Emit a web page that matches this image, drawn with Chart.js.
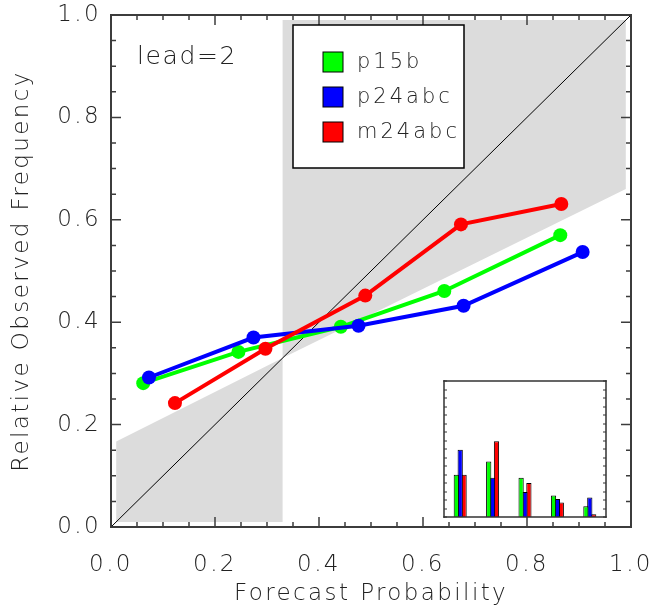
<!DOCTYPE html>
<html>
<head>
<meta charset="utf-8">
<script src="https://cdn.jsdelivr.net/npm/chart.js@4.4.1/dist/chart.umd.min.js"></script>
<style>
  body { margin: 0; background: #fff; }
  #wrap { position: relative; width: 654px; height: 612px; }
  #frame { position: absolute; left: 0; top: 0; }
  #inset { position: absolute; left: 440px; top: 377px; }
</style>
</head>
<body>
<div id="wrap">
  <canvas id="chart" width="654" height="612"></canvas>
  <canvas id="frame" width="654" height="612"></canvas>
  <canvas id="inset" width="170" height="144"></canvas>
</div>
<script>
// reliability points (forecast probability, observed frequency)
const p15bX = [0.062, 0.245, 0.442, 0.641, 0.864];
const p15bY = [0.281, 0.342, 0.391, 0.461, 0.570];
const p24abcX = [0.073, 0.274, 0.476, 0.678, 0.907];
const p24abcY = [0.292, 0.370, 0.393, 0.432, 0.537];
const m24abcX = [0.123, 0.297, 0.489, 0.673, 0.866];
const m24abcY = [0.242, 0.348, 0.452, 0.591, 0.631];

// skill zone outline (climatology ~0.33)
const shadeX = [0.01, 0.01, 0.33, 0.33, 0.99, 0.99, 0.33, 0.33];
const shadeY = [0.01, 0.167, 0.33, 0.99, 0.99, 0.66, 0.33, 0.01];

// sharpness histogram (forecast frequency per bin)
const bins = ['0.1', '0.3', '0.5', '0.7', '0.9'];
const p15bFreq = [0.249, 0.327, 0.231, 0.126, 0.063];
const p24abcFreq = [0.396, 0.231, 0.147, 0.106, 0.114];
const m24abcFreq = [0.249, 0.445, 0.200, 0.086, 0.016];

const xTicks = [0, 0.2, 0.4, 0.6, 0.8, 1.0];
const yTicks = [0, 0.2, 0.4, 0.6, 0.8, 1.0];

const FAMILY = '"DejaVu Sans"';
const GREEN = '#00ff00', BLUE = '#0000ff', RED = '#ff0000';
const AXIS = 'rgb(60,60,60)';

function pts(xs, ys) {
    return xs.map((x, i) => ({ x: x, y: ys[i] }));
}

function series(label, xs, ys, color, order) {
    return {
        label: label,
        data: pts(xs, ys),
        borderColor: color,
        backgroundColor: color,
        borderWidth: 4,
        pointRadius: 7,
        pointBorderWidth: 0,
        pointBackgroundColor: color,
        fill: false,
        order: order,
        legend: true
    };
}

// wider glyph spacing for the axis texts
const spacingPlugin = {
    id: 'spacing',
    beforeDraw(chart) {
        chart.ctx.letterSpacing = '2.4px';
    }
};

const tickFont = { family: FAMILY, size: 23, weight: 200 };
const titleFont = { family: FAMILY, size: 23, weight: 200 };
const axisBorder = { display: true, color: AXIS, width: 2 };

// mirrored box side with no labels
function mirrorAxis(position) {
    return {
        type: 'linear', min: 0, max: 1, position: position,
        grid: { display: false, drawTicks: false },
        border: axisBorder,
        ticks: { display: false }
    };
}

const mainChart = new Chart(document.getElementById('chart').getContext('2d'), {
    type: 'line',
    data: {
        datasets: [
            {
                label: 'shade',
                data: pts(shadeX, shadeY),
                fill: 'shape',
                backgroundColor: '#dcdcdc',
                borderWidth: 0,
                borderColor: 'rgba(0,0,0,0)',
                pointRadius: 0,
                tension: 0,
                order: 10
            },
            {
                label: 'perfect',
                data: [{ x: 0, y: 0 }, { x: 1, y: 1 }],
                borderColor: '#000',
                borderWidth: 1,
                pointRadius: 0,
                fill: false,
                order: 9
            },
            series('p15b', p15bX, p15bY, GREEN, 3),
            series('p24abc', p24abcX, p24abcY, BLUE, 2),
            series('m24abc', m24abcX, m24abcY, RED, 1)
        ]
    },
    options: {
        responsive: false,
        animation: false,
        layout: { padding: { top: 15, right: 23, left: 0, bottom: 0 } },
        plugins: { legend: { display: false }, tooltip: { enabled: false } },
        scales: {
            x: {
                type: 'linear', min: 0, max: 1,
                grid: { display: false, drawTicks: false }, border: axisBorder,
                afterBuildTicks: s => { s.ticks = xTicks.map(v => ({ value: v })); },
                ticks: { padding: 24, maxRotation: 0, autoSkip: false, color: '#222', font: tickFont,
                         callback: v => v.toFixed(1) },
                title: { display: true, text: 'Forecast Probability', color: '#222', font: titleFont,
                         padding: { top: 0, bottom: 4 } },
                afterFit: s => { s.height = 85; s.paddingLeft = 0; s.paddingRight = 0; }
            },
            y: {
                type: 'linear', min: 0, max: 1,
                grid: { display: false, drawTicks: false }, border: axisBorder,
                afterBuildTicks: s => { s.ticks = yTicks.map(v => ({ value: v })); },
                ticks: { padding: 10, color: '#222', font: tickFont, callback: v => v.toFixed(1) },
                title: { display: true, text: 'Relative Observed Frequency', color: '#222', font: titleFont,
                         padding: { top: 8, bottom: 0 } },
                afterFit: s => { s.width = 111; s.paddingTop = 0; s.paddingBottom = 0; }
            },
            xTop: Object.assign(mirrorAxis('top'), { afterFit: s => { s.height = 0; s.paddingLeft = 0; s.paddingRight = 0; } }),
            yRight: Object.assign(mirrorAxis('right'), { afterFit: s => { s.width = 0; s.paddingTop = 0; s.paddingBottom = 0; } })
        }
    },
    plugins: [spacingPlugin]
});

// inward IDL style ticks, label and legend on an overlay, placed with the chart's own scales
function drawFrame(chart) {
    const ctx = document.getElementById('frame').getContext('2d');
    const a = chart.chartArea;
    const sx = chart.scales.x, sy = chart.scales.y;

    ctx.strokeStyle = AXIS;
    ctx.lineWidth = 1.5;
    ctx.beginPath();
    for (let i = 0; i <= 20; i++) {
        const len = (i % 4 === 0) ? 10 : 5;
        const px = sx.getPixelForValue(i / 20);
        const py = sy.getPixelForValue(i / 20);
        ctx.moveTo(px, a.bottom); ctx.lineTo(px, a.bottom - len);
        ctx.moveTo(px, a.top); ctx.lineTo(px, a.top + len);
        ctx.moveTo(a.left, py); ctx.lineTo(a.left + len, py);
        ctx.moveTo(a.right, py); ctx.lineTo(a.right - len, py);
    }
    ctx.stroke();

    // lead label
    ctx.fillStyle = '#222';
    ctx.font = '200 25px ' + FAMILY;
    ctx.letterSpacing = '1.6px';
    ctx.textBaseline = 'middle';
    ctx.textAlign = 'left';
    ctx.fillText('lead=2', 137, 57);

    // legend box
    const bx = 293, by = 25, bw = 171, bh = 143;
    ctx.fillStyle = '#fff';
    ctx.fillRect(bx, by, bw, bh);
    ctx.strokeStyle = '#000';
    ctx.lineWidth = 1.5;
    ctx.strokeRect(bx, by, bw, bh);
    ctx.font = '200 21px ' + FAMILY;
    ctx.letterSpacing = '3px';
    chart.data.datasets.filter(d => d.legend).forEach((d, i) => {
        const cy = 62 + i * 35;
        ctx.fillStyle = d.borderColor;
        ctx.fillRect(323, cy - 10, 20, 20);
        ctx.lineWidth = 1;
        ctx.strokeRect(323, cy - 10, 20, 20);
        ctx.fillStyle = '#222';
        ctx.fillText(d.label, 357, cy + 1);
    });
}
drawFrame(mainChart);

// inset histogram
const insetPlugin = {
    id: 'insetFrame',
    beforeDraw(chart) {
        const { ctx, chartArea: a } = chart;
        ctx.save();
        ctx.fillStyle = '#fff';
        ctx.fillRect(a.left, a.top, a.right - a.left, a.bottom - a.top);
        ctx.restore();
    },
    afterDraw(chart) {
        const { ctx, chartArea: a, scales: { y } } = chart;
        ctx.save();
        ctx.fillStyle = '#333';
        for (let i = 0; i <= 16; i++) {
            const py = Math.round(y.getPixelForValue(i * 0.05));
            ctx.fillRect(a.left, py - 0.5, 3, 1);
            ctx.fillRect(a.right - 3, py - 0.5, 3, 1);
        }
        ctx.fillRect(a.left - 0.75, a.top - 0.75, a.right - a.left + 1.5, 1.5);
        ctx.fillRect(a.left - 0.75, a.bottom - 0.75, a.right - a.left + 1.5, 1.5);
        ctx.fillRect(a.left - 0.75, a.top - 0.75, 1.5, a.bottom - a.top + 1.5);
        ctx.fillRect(a.right - 0.75, a.top - 0.75, 1.5, a.bottom - a.top + 1.5);
        ctx.restore();
    }
};

function bars(label, values, color) {
    return {
        label: label,
        data: values,
        backgroundColor: color,
        borderColor: '#000',
        borderWidth: 1,
        categoryPercentage: 0.36,
        barPercentage: 1.35
    };
}

new Chart(document.getElementById('inset').getContext('2d'), {
    type: 'bar',
    data: {
        labels: bins,
        datasets: [
            bars('p15b', p15bFreq, GREEN),
            bars('p24abc', p24abcFreq, BLUE),
            bars('m24abc', m24abcFreq, RED)
        ]
    },
    options: {
        responsive: false,
        animation: false,
        layout: { padding: 4 },
        plugins: { legend: { display: false }, tooltip: { enabled: false } },
        scales: {
            x: { display: false },
            y: { display: false, min: 0, max: 0.8 }
        }
    },
    plugins: [insetPlugin]
});
</script>
</body>
</html>
